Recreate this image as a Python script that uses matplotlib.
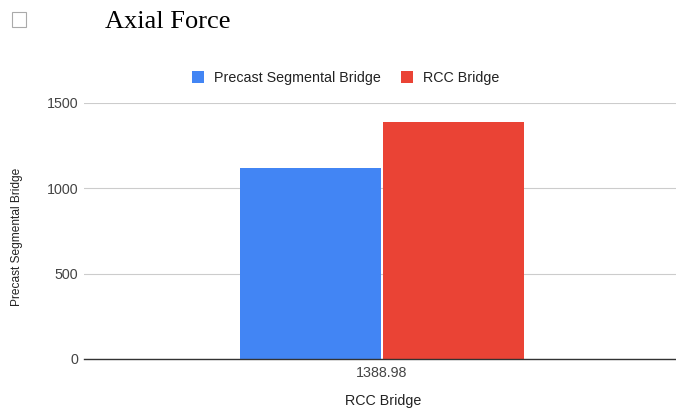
import matplotlib
matplotlib.use('Agg')
import matplotlib.pyplot as plt
from matplotlib.patches import Rectangle

# data
category = ['1388.98']
series_names = ['Precast Segmental Bridge', 'RCC Bridge']
values = [1120, 1388.98]
colors = ['#4285f4', '#ea4335']
y_ticks = [0, 500, 1000, 1500]

plt.rcParams['font.family'] = ['Liberation Sans', 'DejaVu Sans']

fig = plt.figure(figsize=(6.76, 4.08), dpi=100)
ax = fig.add_axes([84 / 676, 1 - 359 / 408, 592 / 676, (359 - 103) / 408])

bw = 0.238
offsets = [-bw / 2 - 0.002, bw / 2 + 0.002]
for name, v, c, off in zip(series_names, values, colors, offsets):
    ax.bar(0 + off, v, width=bw, color=c, label=name, zorder=3)

ax.set_xlim(-0.503, 0.497)
ax.set_ylim(0, 1500)
ax.set_yticks(y_ticks)
ax.set_yticklabels([str(t) for t in y_ticks], color='#444444', fontsize=10.3)
ax.set_xticks([0])
ax.set_xticklabels(category, color='#444444', fontsize=10.3)
ax.tick_params(axis='y', length=0, pad=4)
ax.tick_params(axis='x', length=0, pad=5)
ax.grid(axis='y', color='#cccccc', linewidth=0.8, zorder=0)
for s in ['top', 'right', 'left']:
    ax.spines[s].set_visible(False)
ax.spines['bottom'].set_color('#333333')
ax.spines['bottom'].set_linewidth(1.0)
ax.spines['bottom'].set_zorder(4)

fig.text(17 / 676, 1 - 237 / 408, 'Precast Segmental Bridge', rotation=90,
         ha='center', va='center', fontsize=8.6, color='#222222')
fig.text(383 / 676, 1 - 401 / 408, 'RCC Bridge', ha='center', va='center',
         fontsize=10.3, color='#222222')

# legend
ax.legend(loc='center', bbox_to_anchor=(0.442, 1 + 25 / 256), ncol=2, frameon=False,
          fontsize=10.3, handlelength=0.85, handleheight=0.85, handletextpad=0.7,
          columnspacing=1.4, labelcolor='#222222')

# title and checkbox
fig.text(105 / 676, 1 - 28 / 408, 'Axial Force', family=['Liberation Serif', 'DejaVu Serif'],
         fontsize=19, ha='left', va='baseline', color='black')
fig.patches.append(Rectangle((12 / 676, 1 - 27 / 408), 14 / 676, 15 / 408,
                             transform=fig.transFigure, fill=False,
                             edgecolor='#aaaaaa', linewidth=0.8))

fig.savefig('out.png', dpi=100)
